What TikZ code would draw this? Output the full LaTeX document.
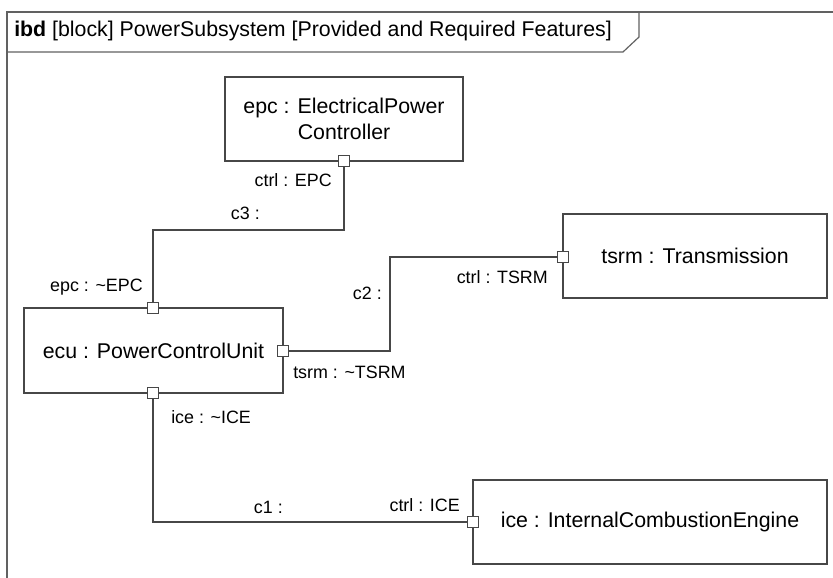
\documentclass[tikz,border=0pt]{standalone}
\usepackage{fontspec}
\setmainfont{Liberation Sans}
\begin{document}
\begin{tikzpicture}[x=0.75pt,y=-0.75pt,
  line cap=butt,
  partbox/.style={draw=black!72,line width=0.8pt,fill=white,inner sep=2pt,align=center,
    font=\fontsize{16}{19}\selectfont},
  portbox/.style={draw=black!72,line width=0.8pt,fill=white,minimum size=8pt,inner sep=0pt},
  conn/.style={draw=black!72,line width=0.8pt},
  lbl/.style={font=\fontsize{13.4}{16}\selectfont,inner sep=0pt,text=black},
  framel/.style={draw=black!62,line width=0.9pt}]
\useasboundingbox (0,0) rectangle (833,578);
% frame
\draw[framel] (7,578) -- (7,12) -- (833,12);
\draw[framel] (7,52) -- (623,52) -- (639,37) -- (639,12);
\node[lbl,anchor=west,font=\fontsize{16}{19}\selectfont] (title) at (14,31)
  {\textbf{ibd} [block] PowerSubsystem [Provided and Required Features]};
% parts
\node[partbox,minimum width=178.5pt,minimum height=63pt] (epc) at (344,119)
  {epc : ElectricalPower\\Controller};
\node[partbox,minimum width=194.25pt,minimum height=63.75pt] (ecu) at (153.5,350.5)
  {ecu : PowerControlUnit};
\node[partbox,minimum width=198pt,minimum height=63pt] (tsrm) at (695,256)
  {tsrm : Transmission};
\node[partbox,minimum width=265.5pt,minimum height=63pt] (ice) at (650,522)
  {ice : InternalCombustionEngine};
% ports
\node[portbox] (pepc) at (344,161) {};
\node[portbox] (pet) at (153,308) {};
\node[portbox] (per) at (283,351) {};
\node[portbox] (peb) at (153,393) {};
\node[portbox] (pts) at (563,257) {};
\node[portbox] (pic) at (473,522) {};
% connectors
\draw[conn] (pepc.south) -- (pepc.south |- 0,230) -| (pet.north);
\draw[conn] (per.east) -- (per.east -| 390,0) |- (pts.west);
\draw[conn] (peb.south) |- (pic.west);
% labels
\node[lbl,anchor=east] (l1) at (332,180) {ctrl : EPC};
\node[lbl,anchor=east] (l2) at (260,213) {c3 :};
\node[lbl,anchor=east] (l3) at (143,287) {epc : \textasciitilde EPC};
\node[lbl,anchor=east] (l4) at (382,293) {c2 :};
\node[lbl,anchor=east] (l5) at (548,277) {ctrl : TSRM};
\node[lbl,anchor=west] (l6) at (293,372) {tsrm : \textasciitilde TSRM};
\node[lbl,anchor=west] (l7) at (171,417) {ice : \textasciitilde ICE};
\node[lbl,anchor=east] (l8) at (283,507) {c1 :};
\node[lbl,anchor=east] (l9) at (460,505) {ctrl : ICE};
\end{tikzpicture}
\end{document}
